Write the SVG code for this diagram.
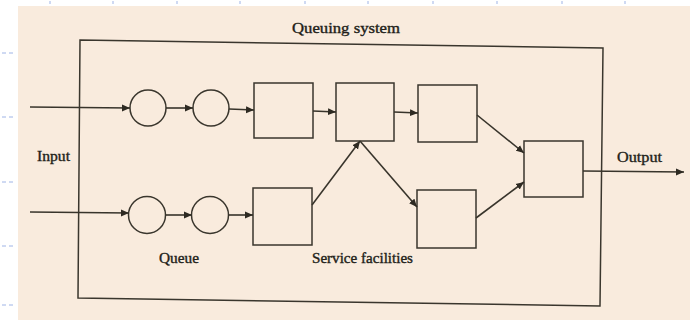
<svg xmlns="http://www.w3.org/2000/svg" width="690" height="320" viewBox="0 0 690 320">
  <style>
    .ln { fill: none; stroke: #38342b; stroke-width: 1.6; }
    .nd { fill: none; stroke: #3a362d; stroke-width: 1.5; }
    .lbl { font-family: "Liberation Serif", "Times New Roman", serif; font-size: 14px; fill: #221e19; stroke: #221e19; stroke-width: 0.35; }
    .tick { stroke: #9fb4e6; stroke-width: 1; }
  </style>
  <defs>
    <marker id="arr" markerUnits="userSpaceOnUse" markerWidth="9" markerHeight="8" refX="8" refY="4" orient="auto">
      <path d="M0,0.5 L8,4 L0,7.5 Z" fill="#2e2a22"/>
    </marker>
  </defs>

  <rect x="0" y="0" width="690" height="320" fill="#ffffff"/>
  <rect x="18" y="6" width="672" height="314" fill="#f9ebdd"/>

  <g id="margin-ticks">
    <line class="tick" x1="50" y1="1" x2="50" y2="4"/>
    <line class="tick" x1="113" y1="1" x2="113" y2="4"/>
    <line class="tick" x1="177" y1="1" x2="177" y2="4"/>
    <line class="tick" x1="240" y1="1" x2="240" y2="4"/>
    <line class="tick" x1="305" y1="1" x2="305" y2="4"/>
    <line class="tick" x1="368" y1="1" x2="368" y2="4"/>
    <line class="tick" x1="433" y1="1" x2="433" y2="4"/>
    <line class="tick" x1="497" y1="1" x2="497" y2="4"/>
    <line class="tick" x1="562" y1="1" x2="562" y2="4"/>
    <line class="tick" x1="625" y1="1" x2="625" y2="4"/>
    <line class="tick" x1="2" y1="53" x2="14" y2="53" stroke-dasharray="4 3"/>
    <line class="tick" x1="2" y1="117" x2="14" y2="117" stroke-dasharray="4 3"/>
    <line class="tick" x1="2" y1="182" x2="14" y2="182" stroke-dasharray="4 3"/>
    <line class="tick" x1="2" y1="246" x2="14" y2="246" stroke-dasharray="4 3"/>
    <line class="tick" x1="2" y1="305" x2="14" y2="305" stroke-dasharray="4 3"/>
  </g>

  <g id="queuing-system">
    <polygon class="nd" points="80,40 603,48 600,306 78,298"/>
    <text class="lbl" x="292" y="33" textLength="108" lengthAdjust="spacingAndGlyphs">Queuing system</text>
  </g>

  <g id="labels">
    <text class="lbl" x="37" y="161" textLength="33" lengthAdjust="spacingAndGlyphs">Input</text>
    <text class="lbl" x="617" y="162" textLength="45" lengthAdjust="spacingAndGlyphs">Output</text>
    <text class="lbl" x="159" y="263" textLength="40" lengthAdjust="spacingAndGlyphs">Queue</text>
    <text class="lbl" x="312" y="263" textLength="101" lengthAdjust="spacingAndGlyphs">Service facilities</text>
  </g>

  <g id="queue-a1"><circle class="nd" cx="148" cy="108" r="18"/></g>
  <g id="queue-a2"><circle class="nd" cx="211" cy="108" r="18"/></g>
  <g id="queue-b1"><circle class="nd" cx="147" cy="215" r="18.5"/></g>
  <g id="queue-b2"><circle class="nd" cx="210" cy="215" r="18.5"/></g>

  <g id="server-1"><rect class="nd" x="254" y="83" width="59" height="55"/></g>
  <g id="server-2"><rect class="nd" x="336" y="83" width="58" height="58"/></g>
  <g id="server-3"><rect class="nd" x="418" y="85" width="59" height="57"/></g>
  <g id="server-4"><rect class="nd" x="253" y="188" width="59" height="57"/></g>
  <g id="server-5"><rect class="nd" x="524" y="141" width="59" height="56"/></g>
  <g id="server-6"><rect class="nd" x="417" y="190" width="59" height="58"/></g>

  <g id="connectors">
    <line class="ln" x1="30" y1="107" x2="130" y2="108" marker-end="url(#arr)"/>
    <line class="ln" x1="166" y1="108" x2="193" y2="108" marker-end="url(#arr)"/>
    <line class="ln" x1="229" y1="109" x2="254" y2="110" marker-end="url(#arr)"/>
    <line class="ln" x1="313" y1="111" x2="336" y2="112" marker-end="url(#arr)"/>
    <line class="ln" x1="394" y1="112" x2="418" y2="113" marker-end="url(#arr)"/>
    <line class="ln" x1="477" y1="115" x2="524" y2="153" marker-end="url(#arr)"/>
    <line class="ln" x1="583" y1="171" x2="684" y2="172" marker-end="url(#arr)"/>

    <line class="ln" x1="30" y1="212" x2="129" y2="213" marker-end="url(#arr)"/>
    <line class="ln" x1="165" y1="215" x2="192" y2="215" marker-end="url(#arr)"/>
    <line class="ln" x1="228" y1="215" x2="253" y2="215" marker-end="url(#arr)"/>
    <line class="ln" x1="312" y1="205" x2="360" y2="141" marker-end="url(#arr)"/>
    <line class="ln" x1="360" y1="141" x2="417" y2="207" marker-end="url(#arr)"/>
    <line class="ln" x1="476" y1="218" x2="524" y2="182" marker-end="url(#arr)"/>
  </g>
</svg>
